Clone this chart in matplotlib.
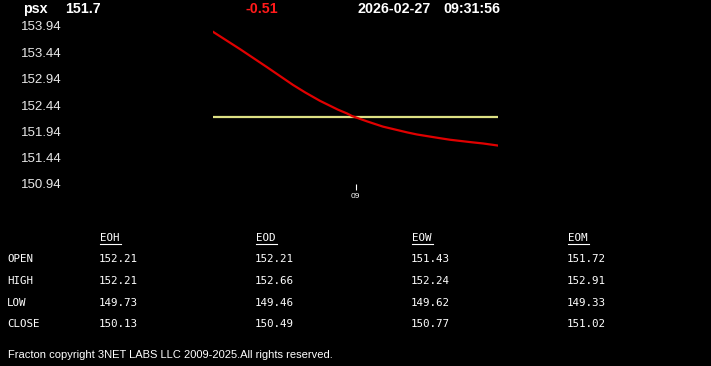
import matplotlib.pyplot as plt
from matplotlib.lines import Line2D

# header
symbol = "psx"
last_price = "151.7"
change = "-0.51"
date_str = "2026-02-27"
time_str = "09:31:56"

# price curve (hours)
times = [8.500, 8.595, 8.689, 8.781, 8.823, 8.875, 8.939, 8.970, 8.988,
         9.040, 9.096, 9.181, 9.216, 9.296, 9.332, 9.412, 9.447, 9.500]
prices = [153.83, 153.50, 153.16, 152.82, 152.68, 152.52, 152.35, 152.28,
          152.23, 152.13, 152.03, 151.92, 151.88, 151.81, 151.78, 151.73,
          151.71, 151.67]
open_price = 152.21

y_ticks = [153.94, 153.44, 152.94, 152.44, 151.94, 151.44, 150.94]
x_ticks = [9.0]
x_labels = ["09"]

# table
columns = ["EOH", "EOD", "EOW", "EOM"]
rows = ["OPEN", "HIGH", "LOW", "CLOSE"]
table = [
    ["152.21", "152.21", "151.43", "151.72"],
    ["152.21", "152.66", "152.24", "152.91"],
    ["149.73", "149.46", "149.62", "149.33"],
    ["150.13", "150.49", "150.77", "151.02"],
]
footer = "Fracton copyright 3NET LABS LLC 2009-2025.All rights reserved."

W, H = 711, 366


def fx(px):
    return px / W


def fy(py):
    return 1 - py / H


def main():
    fig = plt.figure(figsize=(W / 100, H / 100), dpi=100, facecolor="black")
    ax = fig.add_axes([fx(213), fy(184), fx(498) - fx(213), fy(26) - fy(184)])
    ax.set_facecolor("black")

    ax.axhline(open_price, color="#dde084", lw=1.6)
    ax.plot(times, prices, color="#e00000", lw=1.6)

    ax.set_xlim(times[0], times[-1])
    ax.set_ylim(y_ticks[-1], y_ticks[0])
    ax.set_yticks(y_ticks)
    ax.set_yticklabels([f"{v:.2f}" for v in y_ticks])
    ax.set_xticks(x_ticks)
    ax.set_xticklabels(x_labels)
    for s in ax.spines.values():
        s.set_visible(False)
    ax.tick_params(axis="y", length=0, pad=109, colors="#e8e8e8",
                   labelsize=9.5, labelfontfamily="Liberation Sans")
    ax.tick_params(axis="x", length=4, width=0.8, pad=2.5, colors="white",
                   labelsize=6, labelfontfamily="Liberation Sans")

    # header
    hdr = dict(color="white", fontsize=10.3, fontweight="bold",
               family="Liberation Sans", va="center", ha="left")
    fig.text(fx(23), fy(9), symbol, **hdr)
    fig.text(fx(65), fy(9), last_price, **hdr)
    fig.text(fx(246), fy(9), change, **{**hdr, "color": "#ff1a1a"})
    fig.text(fx(357), fy(9), date_str, **hdr)
    fig.text(fx(443), fy(9), time_str, **hdr)

    # table
    mono = dict(color="white", fontsize=7.8, family="DejaVu Sans Mono",
                va="center", ha="left")
    col_x = [100, 256, 412, 568]
    row_y = [259, 281, 303, 324]
    for cx, name in zip(col_x, columns):
        fig.text(fx(cx), fy(238), name, **mono)
        fig.add_artist(Line2D([fx(cx), fx(cx + 21)], [fy(244), fy(244)],
                              color="white", lw=0.8))
    for ry, name, vals in zip(row_y, rows, table):
        fig.text(fx(7), fy(ry), name, **mono)
        for cx, v in zip(col_x, vals):
            fig.text(fx(cx - 1), fy(ry), v, **mono)

    fig.text(fx(8), fy(355), footer, color="white", fontsize=8,
             family="Liberation Sans", va="center", ha="left")

    fig.savefig("out.png", dpi=100, facecolor="black")


if __name__ == "__main__":
    main()
